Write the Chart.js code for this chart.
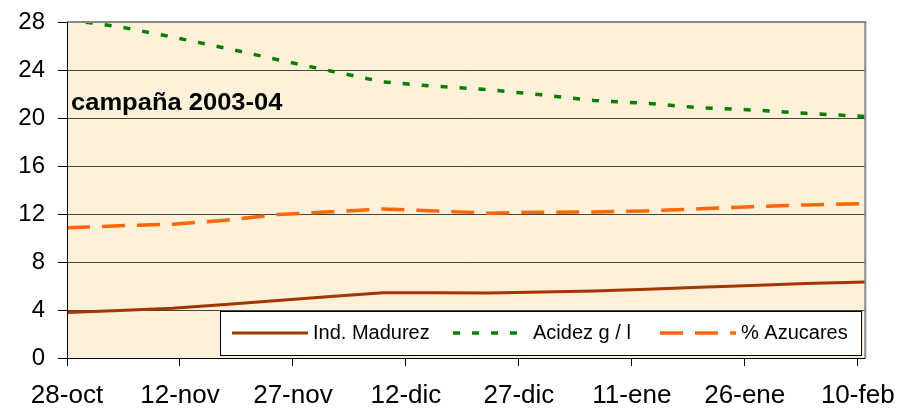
<!DOCTYPE html>
<html>
<head>
<meta charset="utf-8">
<script src="https://cdn.jsdelivr.net/npm/chart.js@4/dist/chart.umd.min.js"></script>
<style>
  html, body { margin: 0; padding: 0; background: #fff; }
  #wrap { width: 909px; height: 412px; }
</style>
</head>
<body>
<div id="wrap"><canvas id="chart"></canvas></div>
<script>
// días desde el 28-oct (muestreos semanales)
const days = [0, 7, 14, 21, 28, 35, 42, 49, 56, 63, 70, 77, 84, 91, 98, 106];
const tickLabels = ['28-oct', '12-nov', '27-nov', '12-dic', '27-dic', '11-ene', '26-ene', '10-feb'];

const madurez = [3.8, 3.95, 4.15, 4.45, 4.8, 5.12, 5.44, 5.43, 5.42, 5.5, 5.59, 5.72, 5.89, 6.05, 6.21, 6.33];
const acidez = [28.2, 27.6, 26.75, 25.83, 24.86, 23.92, 23.0, 22.64, 22.36, 21.93, 21.46, 21.22, 20.86, 20.67, 20.39, 20.13];
const azucares = [10.85, 11.02, 11.15, 11.47, 11.95, 12.18, 12.42, 12.25, 12.07, 12.15, 12.17, 12.26, 12.43, 12.61, 12.76, 12.87];

const seriesNames = ['Ind. Madurez', 'Acidez g / l', '% Azucares'];

const toPoints = arr => arr.map((v, i) => ({ x: days[i], y: v }));

// fondo del área de gráfico y marco
const plotBg = {
    id: 'plotBg',
    beforeDraw(chart) {
        const { ctx, chartArea: a } = chart;
        ctx.save();
        ctx.fillStyle = '#fcf0d8';
        ctx.fillRect(a.left, a.top, a.right - a.left, a.bottom - a.top);
        ctx.restore();
    },
    afterDraw(chart) {
        const { ctx, chartArea: a } = chart;
        ctx.save();
        ctx.strokeStyle = '#8a8a8a';
        ctx.lineWidth = 2;
        ctx.beginPath();
        ctx.moveTo(a.left, a.top);
        ctx.lineTo(a.right, a.top);
        ctx.lineTo(a.right, a.bottom);
        ctx.stroke();
        ctx.strokeStyle = '#000';
        ctx.lineWidth = 1;
        ctx.beginPath();
        ctx.moveTo(a.left + 0.5, a.top);
        ctx.lineTo(a.left + 0.5, a.bottom + 0.5);
        ctx.lineTo(a.right, a.bottom + 0.5);
        ctx.stroke();
        ctx.restore();
    }
};

// título y leyenda dentro del área
const overlay = {
    id: 'overlay',
    afterDatasetsDraw(chart) {
        const { ctx } = chart;
        ctx.save();
        ctx.fillStyle = '#000';
        ctx.font = 'bold 23px "Liberation Sans", Arial, sans-serif';
        ctx.textBaseline = 'middle';
        ctx.textAlign = 'left';
        ctx.save();
        ctx.translate(71, 104);
        ctx.scale(1.11, 1);
        ctx.fillText('campaña 2003-04', 0, 0);
        ctx.restore();

        // caja de leyenda
        ctx.fillStyle = '#fff';
        ctx.fillRect(220, 311, 642, 45);
        ctx.strokeStyle = '#000';
        ctx.lineWidth = 1;
        ctx.strokeRect(220.5, 311.5, 641, 44);

        const items = [
            { x1: 232, x2: 308, tx: 313 },
            { x1: 453, x2: 519, tx: 533 },
            { x1: 660, x2: 736, tx: 741 }
        ];
        ctx.font = '20px "Liberation Sans", Arial, sans-serif';
        items.forEach((it, i) => {
            const ds = chart.data.datasets[i];
            ctx.strokeStyle = ds.borderColor;
            ctx.lineWidth = ds.borderWidth;
            ctx.setLineDash(ds.borderDash || []);
            ctx.beginPath();
            ctx.moveTo(it.x1, 333);
            ctx.lineTo(it.x2, 333);
            ctx.stroke();
            ctx.setLineDash([]);
            ctx.fillStyle = '#000';
            ctx.fillText(seriesNames[i], it.tx, 333);
        });
        ctx.restore();
    }
};

new Chart(document.getElementById('chart'), {
    type: 'line',
    data: {
        datasets: [
            {
                label: seriesNames[0],
                data: toPoints(madurez),
                borderColor: '#a33600',
                borderWidth: 3,
                pointRadius: 0,
                tension: 0
            },
            {
                label: seriesNames[1],
                data: toPoints(acidez),
                borderColor: '#008000',
                borderWidth: 3.5,
                borderDash: [7, 12],
                pointRadius: 0,
                tension: 0
            },
            {
                label: seriesNames[2],
                data: toPoints(azucares),
                borderColor: '#ff6600',
                borderWidth: 3.5,
                borderDash: [23, 12],
                pointRadius: 0,
                tension: 0
            }
        ]
    },
    options: {
        responsive: true,
        maintainAspectRatio: false,
        animation: false,
        layout: { padding: { left: 0, right: 40, top: 22, bottom: 0 } },
        plugins: {
            legend: { display: false },
            tooltip: { enabled: false }
        },
        scales: {
            x: {
                type: 'linear',
                min: 0,
                max: 106,
                afterBuildTicks(scale) {
                    scale.ticks = tickLabels.map((t, i) => ({ value: i * 15 }));
                },
                afterFit(scale) { scale.height = 54; },
                ticks: {
                    autoSkip: false,
                    maxRotation: 0,
                    padding: 14,
                    color: '#000',
                    font: { family: '"Liberation Sans", Arial, sans-serif', size: 26 },
                    callback: (v) => tickLabels[Math.round(v / 15)]
                },
                grid: { drawOnChartArea: false, tickLength: 8, tickColor: '#000', color: '#000' },
                border: { display: false }
            },
            y: {
                min: 0,
                max: 28,
                afterFit(scale) { scale.width = 67; scale.paddingTop = 0; scale.paddingBottom = 0; },
                ticks: {
                    stepSize: 4,
                    padding: 13,
                    color: '#000',
                    font: { family: '"Liberation Sans", Arial, sans-serif', size: 24, lineHeight: 0.8 }
                },
                grid: { color: '#444', lineWidth: 1, tickLength: 9, tickColor: '#000' },
                border: { display: false }
            }
        }
    },
    plugins: [plotBg, overlay]
});
</script>
</body>
</html>
